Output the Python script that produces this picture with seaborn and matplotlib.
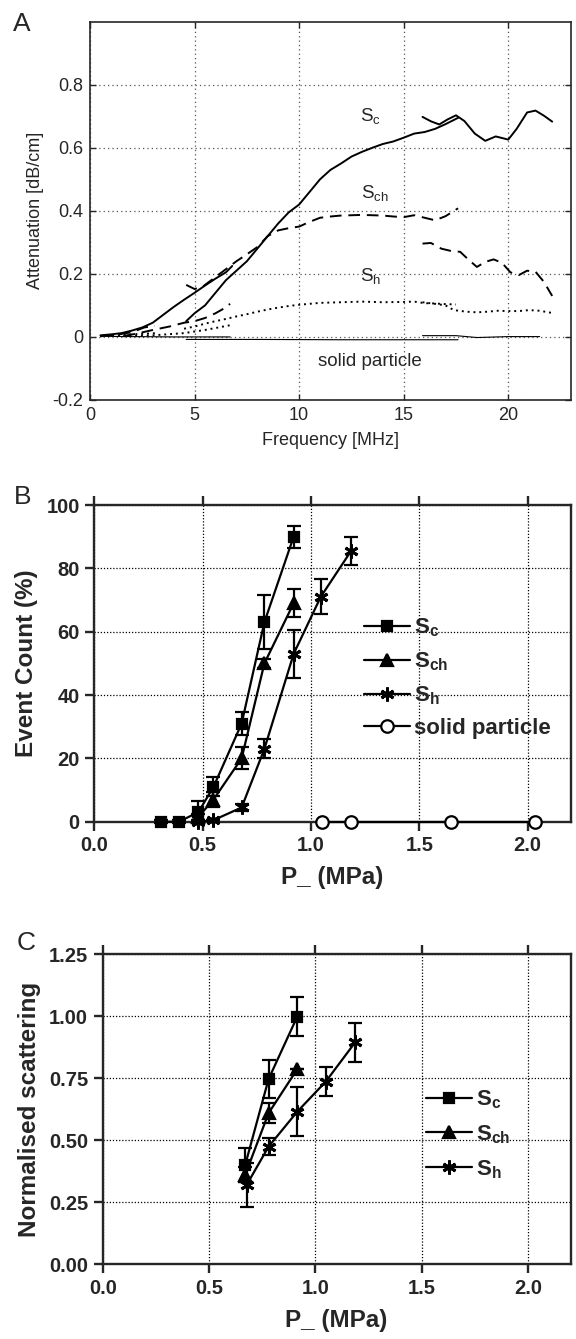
import seaborn as sns
import matplotlib.pyplot as plt

# panel A: attenuation spectra, one list pair per measured band
sc_f1 = [0.5, 1.0, 1.5, 2.0, 2.5, 3.0, 3.5, 4.0, 4.5, 5.0, 5.5, 6.0, 6.5, 6.8]
sc_a1 = [0.005, 0.008, 0.012, 0.02, 0.03, 0.045, 0.07, 0.095, 0.118, 0.14, 0.163, 0.185, 0.205, 0.225]
sc_f2 = [4.6, 5.0, 5.5, 6.0, 6.5, 7.0, 7.5, 8.0, 8.5, 9.0, 9.5, 10.0, 10.5, 11.0, 11.5,
         12.0, 12.5, 13.0, 13.5, 14.0, 14.5, 15.0, 15.5, 16.0, 16.5, 17.0, 17.6]
sc_a2 = [0.05, 0.075, 0.10, 0.14, 0.18, 0.21, 0.24, 0.28, 0.32, 0.36, 0.395, 0.42, 0.46, 0.50, 0.53,
         0.55, 0.572, 0.587, 0.60, 0.612, 0.62, 0.632, 0.645, 0.65, 0.66, 0.675, 0.695]
sc_f3 = [15.9, 16.3, 16.7, 17.1, 17.5, 17.9, 18.4, 18.9, 19.4, 20.0, 20.4, 20.9, 21.3, 21.7, 22.1]
sc_a3 = [0.698, 0.684, 0.674, 0.69, 0.703, 0.685, 0.645, 0.622, 0.636, 0.626, 0.66, 0.712, 0.718, 0.702, 0.683]

sch_f0 = [0.5, 1.2, 2.0, 2.6, 3.1]
sch_a0 = [0.003, 0.006, 0.015, 0.03, 0.035]
sch_f1 = [1.6, 2.2, 3.0, 3.8, 4.5, 5.0, 5.5, 6.0, 6.4, 6.7]
sch_a1 = [0.003, 0.01, 0.022, 0.033, 0.045, 0.05, 0.06, 0.075, 0.09, 0.105]
sch_f2 = [4.6, 5.0, 5.4, 6.0, 6.5, 7.0, 7.5, 8.0, 8.5, 9.0, 9.5, 10.0, 10.5, 11.0, 11.5,
          12.0, 13.0, 14.0, 14.5, 15.0, 15.5, 16.0, 16.5, 17.0, 17.6]
sch_a2 = [0.165, 0.152, 0.16, 0.19, 0.215, 0.24, 0.262, 0.285, 0.32, 0.338, 0.345, 0.35, 0.365, 0.378, 0.382,
          0.385, 0.387, 0.385, 0.382, 0.38, 0.386, 0.378, 0.37, 0.383, 0.408]
sch_f3 = [15.9, 16.3, 16.8, 17.3, 17.7, 18.1, 18.5, 18.9, 19.3, 19.7, 20.1, 20.5, 20.9, 21.3, 21.7, 22.1]
sch_a3 = [0.296, 0.298, 0.28, 0.272, 0.27, 0.245, 0.222, 0.238, 0.246, 0.235, 0.205, 0.196, 0.21, 0.207, 0.175, 0.13]

sh_f0 = [0.5, 1.0, 2.0, 3.2]
sh_a0 = [0.002, 0.004, 0.008, 0.012]
sh_f1 = [1.6, 3.0, 4.5, 5.5, 6.7]
sh_a1 = [0.002, 0.005, 0.012, 0.022, 0.037]
sh_f2 = [4.5, 5.0, 5.5, 6.0, 6.5, 7.0, 7.5, 8.0, 8.5, 9.0, 9.5, 10.0, 11.0, 12.0, 13.0,
         14.0, 15.0, 15.5, 16.0, 16.5, 17.0, 17.5]
sh_a2 = [0.026, 0.033, 0.042, 0.05, 0.057, 0.065, 0.072, 0.08, 0.087, 0.093, 0.098, 0.102, 0.108, 0.11, 0.112,
         0.11, 0.111, 0.112, 0.107, 0.106, 0.104, 0.103]
sh_f3 = [15.9, 16.5, 17.0, 17.4, 18.0, 18.5, 19.0, 19.5, 20.0, 20.5, 21.0, 21.5, 22.1]
sh_a3 = [0.11, 0.105, 0.1, 0.085, 0.08, 0.078, 0.08, 0.083, 0.082, 0.082, 0.085, 0.083, 0.076]

sp_f1 = [0.5, 2.0, 4.0, 6.7]
sp_a1 = [0.002, 0.001, 0.0, 0.0]
sp_f2 = [4.6, 8.0, 12.0, 17.6]
sp_a2 = [-0.008, -0.008, -0.009, -0.009]
sp_f3 = [15.9, 17.5, 18.5, 20.0, 21.5]
sp_a3 = [0.004, 0.004, -0.002, 0.001, 0.001]

# panel B: event count
b_sc_x = [0.31, 0.39, 0.48, 0.55, 0.68, 0.785, 0.92]
b_sc_y = [0, 0, 3, 11, 31, 63, 90]
b_sc_e = [0.5, 0.5, 3.5, 3, 3.5, 8.5, 3.5]
b_sch_x = [0.48, 0.55, 0.68, 0.785, 0.92]
b_sch_y = [1.5, 7, 20, 50, 69]
b_sch_e = [1, 2.5, 3.5, 1.5, 4.5]
b_sh_x = [0.48, 0.55, 0.68, 0.785, 0.92, 1.045, 1.185]
b_sh_y = [0, 0.5, 4.5, 23, 53, 71, 85.5]
b_sh_e = [0, 0, 1, 3, 7.5, 5.5, 4.5]
b_sp_x = [1.05, 1.185, 1.645, 2.035]
b_sp_y = [0, 0, 0, 0]

# panel C: normalised scattering
c_sc_x = [0.67, 0.78, 0.915]
c_sc_y = [0.40, 0.746, 0.998]
c_sc_e = [0.07, 0.078, 0.08]
c_sch_x = [0.67, 0.78, 0.915]
c_sch_y = [0.36, 0.609, 0.786]
c_sch_e = [0.03, 0.04, 0.0]
c_sh_x = [0.677, 0.78, 0.915, 1.049, 1.187]
c_sh_y = [0.32, 0.474, 0.615, 0.736, 0.894]
c_sh_e = [0.088, 0.035, 0.10, 0.058, 0.08]

sns.set_theme(style="ticks")
plt.rcParams['font.family'] = ['Liberation Sans', 'DejaVu Sans']
plt.rcParams['mathtext.fontset'] = 'custom'
plt.rcParams['mathtext.rm'] = 'Liberation Sans'
plt.rcParams['mathtext.bf'] = 'Liberation Sans:bold'
plt.rcParams['axes.unicode_minus'] = False

fig = plt.figure(figsize=(5.76, 13.39), dpi=100)

# ---------- A ----------
ax = fig.add_axes([0.15625, 0.7013, 0.8351, 0.2825])
solid = '-'
dashed = (0, (6, 3.5))
dotted = (0, (1, 2))
segs = [(sc_f1, sc_a1, solid), (sc_f2, sc_a2, solid), (sc_f3, sc_a3, solid),
        (sch_f0, sch_a0, dashed), (sch_f1, sch_a1, dashed), (sch_f2, sch_a2, dashed), (sch_f3, sch_a3, dashed),
        (sh_f0, sh_a0, dotted), (sh_f1, sh_a1, dotted), (sh_f2, sh_a2, dotted), (sh_f3, sh_a3, dotted)]
for f, a, ls in segs:
    sns.lineplot(x=f, y=a, ax=ax, color='black', linestyle=ls, linewidth=1.4, sort=False, errorbar=None)
for f, a in [(sp_f1, sp_a1), (sp_f2, sp_a2), (sp_f3, sp_a3)]:
    sns.lineplot(x=f, y=a, ax=ax, color='black', linewidth=0.8, sort=False, errorbar=None)

ax.set_xlim(0, 23)
ax.set_ylim(-0.2, 1.0)
ax.set_xticks([0, 5, 10, 15, 20])
ax.set_yticks([-0.2, 0, 0.2, 0.4, 0.6, 0.8])
ax.set_yticklabels(['-0.2', '0', '0.2', '0.4', '0.6', '0.8'])
ax.grid(True, linestyle=(0, (1, 2.5)), color='#555555', linewidth=0.9)
ax.tick_params(direction='in', length=4, width=1, labelsize=13, top=True, right=True, pad=5)
for s in ax.spines.values():
    s.set_linewidth(1.2)
ax.set_xlabel('Frequency [MHz]', fontsize=13, labelpad=6)
ax.set_ylabel('Attenuation [dB/cm]', fontsize=13, labelpad=6)
ax.text(13.4, 0.698, r'S$_\mathrm{c}$', fontsize=13.5, ha='center', va='center')
ax.text(13.6, 0.455, r'S$_\mathrm{ch}$', fontsize=13.5, ha='center', va='center')
ax.text(13.4, 0.19, r'S$_\mathrm{h}$', fontsize=13.5, ha='center', va='center')
ax.text(13.4, -0.079, 'solid particle', fontsize=13.5, ha='center', va='center')
fig.text(22 / 576, 1 - 24 / 1339, 'A', fontsize=19, ha='center', va='center')

star = (6, 2, 0)
legend_font = {'weight': 'bold', 'size': 16}


def style_bc(ax):
    ax.grid(True, linestyle=(0, (1, 1.5)), color='black', linewidth=0.9)
    ax.tick_params(direction='out', length=6.5, width=1.7, labelsize=14.5, top=True, pad=4)
    for lab in ax.get_xticklabels() + ax.get_yticklabels():
        lab.set_fontweight('bold')
    for s in ax.spines.values():
        s.set_linewidth(1.7)
    ax.set_xlabel('P_ (MPa)', fontsize=17.5, fontweight='bold', labelpad=8)


def series(ax, x, y, e, marker, ms, label, mfc='black', mew=1.6):
    sns.lineplot(x=x, y=y, ax=ax, color='black', linewidth=1.6, marker=marker, markersize=ms,
                 markerfacecolor=mfc, markeredgecolor='black', markeredgewidth=mew,
                 label=label, sort=False, errorbar=None, clip_on=False, zorder=4)
    if e is not None:
        ax.errorbar(x, y, yerr=e, fmt='none', ecolor='black', elinewidth=1.6, capsize=5,
                    capthick=1.6, clip_on=False, zorder=3)


# ---------- B ----------
ax = fig.add_axes([0.1637, 0.3863, 0.8276, 0.2365])
series(ax, b_sc_x, b_sc_y, b_sc_e, 's', 7.5, r'$\mathbf{S_c}$')
series(ax, b_sch_x, b_sch_y, b_sch_e, '^', 8, r'$\mathbf{S_{ch}}$')
series(ax, b_sh_x, b_sh_y, b_sh_e, star, 10, r'$\mathbf{S_h}$', mew=2.1)
series(ax, b_sp_x, b_sp_y, None, 'o', 9, 'solid particle', mfc='white')
ax.set_xlim(0, 2.2)
ax.set_ylim(0, 100)
ax.set_xticks([0, 0.5, 1.0, 1.5, 2.0])
ax.set_xticklabels(['0.0', '0.5', '1.0', '1.5', '2.0'])
ax.set_yticks([0, 20, 40, 60, 80, 100])
style_bc(ax)
ax.set_ylabel('Event Count (%)', fontsize=17.5, fontweight='bold', labelpad=6)
ax.legend(loc='upper left', bbox_to_anchor=(0.565, 0.647), frameon=False, prop=legend_font,
          handlelength=2.1, handletextpad=0.15, labelspacing=0.5, borderpad=0, borderaxespad=0)
fig.text(23 / 576, 1 - 497 / 1339, 'B', fontsize=19, ha='center', va='center')

# ---------- C ----------
ax = fig.add_axes([0.1783, 0.0558, 0.8122, 0.2317])
series(ax, c_sc_x, c_sc_y, c_sc_e, 's', 7.5, r'$\mathbf{S_c}$')
series(ax, c_sch_x, c_sch_y, c_sch_e, '^', 8, r'$\mathbf{S_{ch}}$')
series(ax, c_sh_x, c_sh_y, c_sh_e, star, 10, r'$\mathbf{S_h}$', mew=2.1)
ax.set_xlim(0, 2.2)
ax.set_ylim(0, 1.25)
ax.set_xticks([0, 0.5, 1.0, 1.5, 2.0])
ax.set_xticklabels(['0.0', '0.5', '1.0', '1.5', '2.0'])
ax.set_yticks([0, 0.25, 0.5, 0.75, 1.0, 1.25])
ax.set_yticklabels(['0.00', '0.25', '0.50', '0.75', '1.00', '1.25'])
style_bc(ax)
ax.set_ylabel('Normalised scattering', fontsize=17.5, fontweight='bold', labelpad=6)
ax.legend(loc='upper left', bbox_to_anchor=(0.69, 0.567), frameon=False, prop=legend_font,
          handlelength=2.1, handletextpad=0.15, labelspacing=0.55, borderpad=0, borderaxespad=0)
fig.text(26.5 / 576, 1 - 943 / 1339, 'C', fontsize=19, ha='center', va='center')

fig.savefig('out.png', dpi=100)
